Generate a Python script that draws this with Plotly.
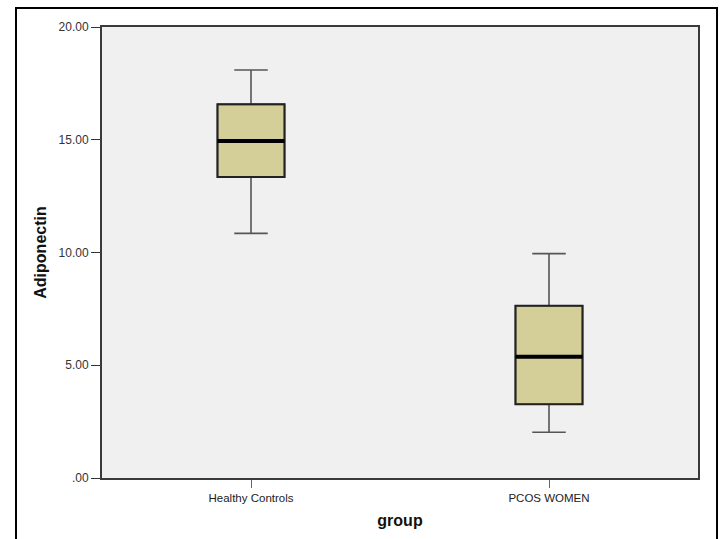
import plotly.graph_objects as go

categories = ["Healthy Controls", "PCOS WOMEN"]
lower_whisker = [10.85, 2.03]
q1 = [13.35, 3.27]
median = [14.94, 5.38]
q3 = [16.57, 7.64]
upper_whisker = [18.09, 9.95]
y_tickvals = [0, 5, 10, 15, 20]
y_ticktext = [".00", "5.00", "10.00", "15.00", "20.00"]

BOX_W = 0.225

fig = go.Figure()
fig.add_trace(go.Box(
    x=categories,
    q1=q1, median=median, q3=q3,
    lowerfence=lower_whisker, upperfence=upper_whisker,
    fillcolor="#d4cf98",
    line=dict(color="#555555", width=1.6),
    width=BOX_W,
    whiskerwidth=0.5,
    boxpoints=False,
    showlegend=False,
    hoverinfo="skip",
))

shapes = []
for i in range(len(categories)):
    # dark box outline over the trace
    shapes.append(dict(type="rect", xref="x", yref="y",
                       x0=i - BOX_W / 2, x1=i + BOX_W / 2, y0=q1[i], y1=q3[i],
                       line=dict(color="#222222", width=2)))
    # thick median line
    shapes.append(dict(type="line", xref="x", yref="y",
                       x0=i - BOX_W / 2, x1=i + BOX_W / 2, y0=median[i], y1=median[i],
                       line=dict(color="black", width=4)))
# outer frame
shapes.append(dict(type="rect", xref="paper", yref="paper",
                   x0=-0.1443, x1=1.0319, y0=-0.3, y1=1.0421,
                   line=dict(color="black", width=2), layer="below"))

fig.update_layout(
    width=722, height=539,
    margin=dict(l=102, r=24, t=27, b=61, autoexpand=False),
    paper_bgcolor="white",
    plot_bgcolor="#f0f0f0",
    font=dict(family="Liberation Sans, Arial, sans-serif", color="#222222"),
    shapes=shapes,
    xaxis=dict(
        type="category",
        range=[-0.5, 1.5],
        automargin=False,
        showline=True, mirror=True, linecolor="#3a3a3a", linewidth=2,
        ticks="outside", ticklen=8, tickcolor="#666666", tickwidth=1,
        tickfont=dict(size=11.5, color="#222222"),
        showgrid=False, zeroline=False,
        title=dict(text="<b>group</b>", font=dict(size=16, color="#111111"), standoff=12),
    ),
    yaxis=dict(
        range=[0, 20],
        automargin=False,
        tickvals=y_tickvals, ticktext=y_ticktext,
        showline=True, mirror=True, linecolor="#3a3a3a", linewidth=2,
        ticks="outside", ticklen=9, tickcolor="#333333", tickwidth=1,
        tickfont=dict(size=12, color="#333333"),
        showgrid=False, zeroline=False,
        title=dict(text="<b>Adiponectin</b>", font=dict(size=16, color="#111111"), standoff=8),
    ),
)

fig.write_html("out.html", config={"displayModeBar": False},
               post_script="document.body.style.margin='0';document.body.style.padding='0';")
